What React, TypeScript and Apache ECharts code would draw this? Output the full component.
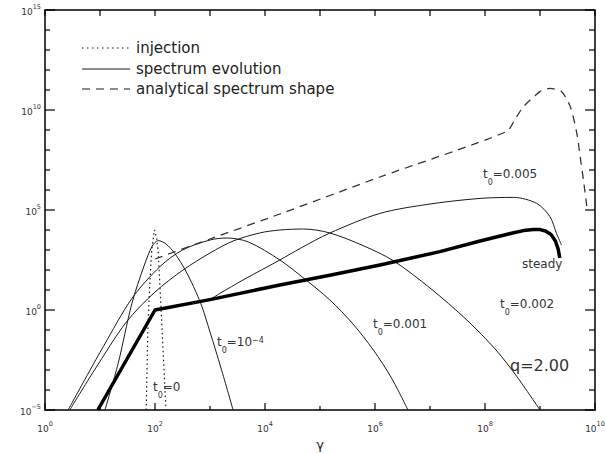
import React, { useEffect, useRef } from "react";
import * as echarts from "echarts";

// All values are log10(gamma) and log10(N).
const injectionLogGamma = [1.84, 1.87, 1.9, 1.94, 1.99, 2.03, 2.06, 2.12, 2.2];
const injectionLogN = [-5, -1, 1, 3, 4.0, 3.6, 2.83, -0.5, -5];

const t1e4LogGamma = [1.09, 1.33, 1.58, 1.8, 1.95, 2.06, 2.2, 2.36, 2.55, 2.7, 2.85, 3.0, 3.2, 3.42];
const t1e4LogN = [-5, -2.67, 0.33, 2.2, 3.2, 3.47, 3.3, 2.83, 2.0, 1.17, 0.2, -1.1, -2.9, -5];

const t001LogGamma = [0.42, 0.8, 1.06, 1.58, 2.09, 2.5, 3.0, 3.3, 3.7, 4.27, 4.7, 5.18, 5.6, 5.97, 6.3, 6.6];
const t001LogN = [-5, -3.1, -1.83, 0.58, 2.17, 3.0, 3.5, 3.6, 3.4, 2.5, 1.6, 0.5, -0.7, -2.0, -3.4, -5];

const t002LogGamma = [0.45, 0.9, 1.48, 2.0, 2.51, 3.0, 3.42, 3.9, 4.27, 4.7, 5.18, 5.8, 6.33, 7.0, 7.67, 8.2, 8.58, 9.0];
const t002LogN = [-5, -3.0, -0.6, 0.9, 2.0, 2.85, 3.45, 3.85, 4.0, 4.05, 3.85, 3.2, 2.47, 1.1, -0.5, -2.0, -3.33, -5];

const t005LogGamma = [2.6, 3.0, 3.18, 3.6, 4.27, 4.64, 5.18, 6.09, 7.0, 7.91, 8.52, 8.94, 9.18, 9.3, 9.39];
const t005LogN = [0.31, 0.55, 0.83, 1.5, 2.5, 3.08, 3.85, 4.83, 5.3, 5.58, 5.63, 5.33, 4.67, 3.83, 3.25];

const steadyLogGamma = [0.96, 2.0, 3.0, 4.27, 5.2, 6.09, 7.18, 7.91, 8.5, 8.7, 8.88, 9.0, 9.1, 9.2, 9.28, 9.33, 9.36];
const steadyLogN = [-5, 0.0, 0.52, 1.25, 1.75, 2.25, 2.92, 3.45, 3.85, 3.97, 4.03, 4.02, 3.95, 3.78, 3.45, 3.05, 2.6];

const analyticLogGamma = [2.0, 3.0, 4.27, 6.09, 8.39, 8.55, 8.7, 9.0, 9.18, 9.39, 9.55, 9.67, 9.73, 9.79, 9.85];
const analyticLogN = [2.55, 3.55, 4.8, 6.65, 8.92, 9.55, 10.17, 10.92, 11.08, 10.92, 10.17, 8.83, 7.67, 6.5, 5.2];

const xTickExponents = [0, 2, 4, 6, 8, 10];
const yTickExponents = [-5, 0, 5, 10, 15];
const xDecades = [0, 1, 2, 3, 4, 5, 6, 7, 8, 9, 10];
const yDecades = [-5, -4, -3, -2, -1, 0, 1, 2, 3, 4, 5, 6, 7, 8, 9, 10, 11, 12, 13, 14, 15];

const legendNames = ["injection", "spectrum evolution", "analytical spectrum shape"];

const FONT = "'DejaVu Sans', 'Liberation Sans', sans-serif";
const INK = "#1a1a1a";

const pts = (xs: number[], ys: number[]) => xs.map((x, i) => [x, ys[i]]);

const tickRich = {
  b: { fontSize: 9, lineHeight: 13, verticalAlign: "bottom", color: "#333", fontFamily: FONT },
  s: { fontSize: 6.5, lineHeight: 6, verticalAlign: "top", color: "#333", fontFamily: FONT },
};

const labelRich = {
  t: { fontSize: 12, lineHeight: 18, verticalAlign: "top", color: "#333", fontFamily: FONT },
  o: { fontSize: 8, lineHeight: 8, verticalAlign: "bottom", color: "#333", fontFamily: FONT },
  s: { fontSize: 8, lineHeight: 8, verticalAlign: "top", color: "#333", fontFamily: FONT },
};

export default function App() {
  const ref = useRef<HTMLDivElement>(null);
  useEffect(() => {
    if (!ref.current) return;
    const chart = echarts.init(ref.current, undefined, { renderer: "svg" });
    const thin = (name: string, xs: number[], ys: number[]) => ({
      name,
      type: "line",
      data: pts(xs, ys),
      showSymbol: false,
      symbol: "none",
      smooth: 0.3,
      lineStyle: { color: INK, width: 1 },
      itemStyle: { color: INK },
      clip: true,
    });
    const axisLine = { show: true, onZero: false, lineStyle: { color: "#000", width: 1.5 } };
    const mkLabel = (rich: string, x: number, y: number) => ({
      type: "text",
      x,
      y,
      silent: true,
      style: {
        text: rich,
        rich: labelRich,
        fontSize: 12,
        fontFamily: FONT,
        fill: "#333",
        align: "left",
        verticalAlign: "middle",
      },
    });
    const legendRowY = [48, 69, 89];
    const legendDash: any[] = [[1.5, 3.5], null, [8, 6]];
    const legendGraphics: any[] = [];
    legendNames.forEach((n, i) => {
      legendGraphics.push({
        type: "line",
        silent: true,
        shape: { x1: 82, y1: legendRowY[i], x2: 130, y2: legendRowY[i] },
        style: { stroke: INK, lineWidth: 1.2, lineDash: legendDash[i] || undefined },
      });
      legendGraphics.push({
        type: "text",
        x: 136,
        y: legendRowY[i],
        silent: true,
        style: { text: n, fontSize: 15, fontFamily: FONT, fill: "#222", align: "left", verticalAlign: "middle" },
      });
    });
    const labelGraphics = [
      mkLabel("{t|t}{o|0}{t|=0.005}", 483, 177),
      mkLabel("{t|steady}", 522, 267),
      mkLabel("{t|t}{o|0}{t|=0.002}", 500, 307),
      mkLabel("{t|t}{o|0}{t|=0.001}", 373, 327),
      mkLabel("{t|t}{o|0}{t|=10}{s|−4}", 217, 345),
      mkLabel("{t|t}{o|0}{t|=0}", 153, 390),
      {
        type: "text",
        x: 510,
        y: 365,
        silent: true,
        style: { text: "q=2.00", fontSize: 16, fontFamily: FONT, fill: "#333", align: "left", verticalAlign: "middle" },
      },
    ];
    // Tick marks as bar-like scatter symbols, offset so they sit inside the frame.
    const tickSeries = (
      name: string,
      data: number[][],
      size: number[],
      offset: number[]
    ) => ({
      name,
      type: "scatter",
      silent: true,
      clip: false,
      z: 10,
      symbol: "rect",
      symbolSize: size,
      symbolOffset: offset,
      itemStyle: { color: "#000", opacity: 1 },
      data,
    });
    chart.setOption({
      animation: false,
      backgroundColor: "#fff",
      grid: { left: 45, right: 11, top: 10, bottom: 44, containLabel: false, outerBoundsMode: "none" },
      xAxis: [
        {
          type: "value",
          min: 0,
          max: 10,
          interval: 2,
          position: "bottom",
          splitLine: { show: false },
          axisLine,
          axisTick: { show: false },
          name: "γ",
          nameLocation: "middle",
          nameGap: 27,
          nameTextStyle: { fontSize: 13, color: "#222", fontFamily: FONT },
          axisLabel: {
            show: true,
            margin: 10,
            formatter: (v: number) => (xTickExponents.includes(v) ? `{b|10}{s|${v}}` : ""),
            rich: tickRich,
          },
        },
        {
          type: "value",
          min: 0,
          max: 10,
          interval: 2,
          position: "top",
          splitLine: { show: false },
          axisLine,
          axisTick: { show: false },
          axisLabel: { show: false },
        },
      ],
      yAxis: [
        {
          type: "value",
          min: -5,
          max: 15,
          interval: 5,
          position: "left",
          splitLine: { show: false },
          axisLine,
          axisTick: { show: false },
          axisLabel: {
            show: true,
            margin: 4,
            formatter: (v: number) =>
              yTickExponents.includes(v) ? `{b|10}{s|${v < 0 ? "−" + Math.abs(v) : v}}` : "",
            rich: tickRich,
          },
        },
        {
          type: "value",
          min: -5,
          max: 15,
          interval: 5,
          position: "right",
          splitLine: { show: false },
          axisLine,
          axisTick: { show: false },
          axisLabel: { show: false },
        },
      ],
      series: [
        {
          name: "injection",
          type: "line",
          data: pts(injectionLogGamma, injectionLogN),
          showSymbol: false,
          symbol: "none",
          lineStyle: { color: INK, width: 1.2, type: [1.5, 3] },
          itemStyle: { color: INK },
          clip: true,
        },
        thin("spectrum evolution", t1e4LogGamma, t1e4LogN),
        thin("spectrum evolution", t001LogGamma, t001LogN),
        thin("spectrum evolution", t002LogGamma, t002LogN),
        thin("spectrum evolution", t005LogGamma, t005LogN),
        {
          name: "analytical spectrum shape",
          type: "line",
          data: pts(analyticLogGamma, analyticLogN),
          showSymbol: false,
          symbol: "none",
          smooth: 0.25,
          lineStyle: { color: "#333", width: 1.3, type: [8, 6] },
          itemStyle: { color: "#333" },
          clip: true,
        },
        {
          name: "steady",
          type: "line",
          data: pts(steadyLogGamma, steadyLogN),
          showSymbol: false,
          symbol: "none",
          smooth: false,
          lineStyle: { color: "#000", width: 3.5, join: "round" },
          itemStyle: { color: "#000" },
          clip: true,
        },
        tickSeries("x ticks major bottom", xDecades.filter((d) => xTickExponents.includes(d)).map((d) => [d, -5]), [1.2, 7], [0, -3.5]),
        tickSeries("x ticks minor bottom", xDecades.filter((d) => !xTickExponents.includes(d)).map((d) => [d, -5]), [1.2, 4], [0, -2]),
        tickSeries("x ticks top", xDecades.map((d) => [d, 15]), [1.2, 6], [0, 3]),
        tickSeries("y ticks major left", yDecades.filter((d) => yTickExponents.includes(d)).map((d) => [0, d]), [10, 1.2], [5, 0]),
        tickSeries("y ticks minor left", yDecades.filter((d) => !yTickExponents.includes(d)).map((d) => [0, d]), [5, 1.2], [2.5, 0]),
        tickSeries("y ticks major right", yDecades.filter((d) => yTickExponents.includes(d)).map((d) => [10, d]), [10, 1.2], [-5, 0]),
        tickSeries("y ticks minor right", yDecades.filter((d) => !yTickExponents.includes(d)).map((d) => [10, d]), [6, 1.2], [-3, 0]),
      ],
      graphic: [...legendGraphics, ...labelGraphics],
    });

    return () => chart.dispose();
  }, []);
  return (
    <div
      ref={ref}
      style={{ position: "fixed", left: 0, top: 0, width: 606, height: 454, background: "#fff" }}
    />
  );
}
